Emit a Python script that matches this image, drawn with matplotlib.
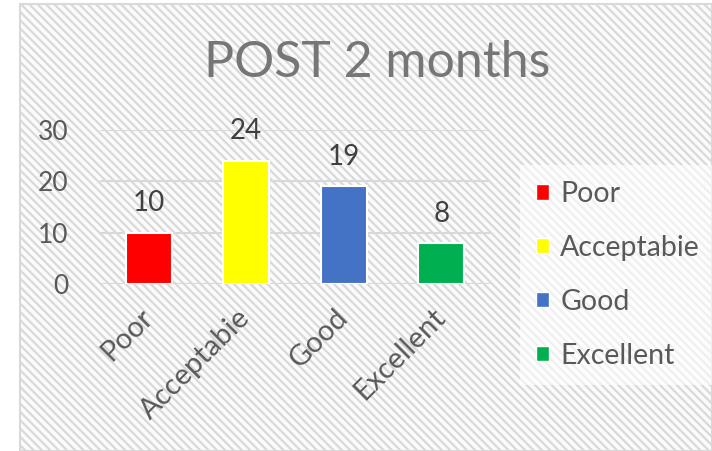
import numpy as np
import matplotlib.pyplot as plt
from matplotlib.patches import Rectangle

categories = ['Poor', 'Acceptabie', 'Good', 'Excellent']
values = [10, 24, 19, 8]
colors = ['#ff0000', '#ffff00', '#4472c4', '#00b050']
yticks = [0, 10, 20, 30]

plt.rcParams['font.family'] = ['Lato', 'DejaVu Sans']
plt.rcParams['hatch.linewidth'] = 1.6
plt.rcParams['hatch.color'] = '#e6e6e6'

fig = plt.figure(figsize=(7.12, 4.51), dpi=100)
fig.patch.set_facecolor('white')

# striped chart background
W, H = 712, 451
bg = Rectangle((20 / W, 0), 1 - 20 / W, 1 - 4 / H, transform=fig.transFigure,
               facecolor='#fbfbfb', edgecolor='#d9d9d9', hatch='\\\\\\\\', linewidth=1.5, zorder=-2)
fig.patches.append(bg)

# legend area is lighter
leg_bg = Rectangle((520 / W, 1 - 385 / H), 1 - 520 / W, 220 / H, transform=fig.transFigure,
                   facecolor='white', edgecolor='none', alpha=0.6, zorder=-1)
fig.patches.append(leg_bg)

ax = fig.add_axes([100 / W, 1 - 284 / H, 390 / W, 154 / H])
ax.set_zorder(2)
ax.patch.set_alpha(0)
x = np.arange(len(categories))
ax.bar(x, values, width=0.47, color=colors, edgecolor='white', linewidth=1.5, zorder=3)

for xi, v in zip(x, values):
    ax.text(xi, v + 3.2, str(v), ha='center', va='bottom', fontsize=20, color='#404040')

ax.set_xlim(-0.5, 3.5)
ax.set_ylim(0, 30)
ax.set_yticks(yticks)
ax.yaxis.grid(True, color='#d9d9d9', linewidth=1.5, zorder=0)
ax.set_axisbelow(True)
for s in ax.spines.values():
    s.set_visible(False)
ax.tick_params(length=0)
ax.tick_params(axis='y', labelsize=19, labelcolor='#595959', pad=23)
ax.set_xticks(x)
ax.set_xticklabels(categories, rotation=45, ha='right', va='center', rotation_mode='anchor',
                   fontsize=21, color='#595959')
ax.tick_params(axis='x', pad=21)

fig.text(377 / W, 1 - 63 / H, 'POST 2 months', ha='center', va='center', fontsize=36,
         color='#767676')

handles = [Rectangle((0, 0), 1, 1, facecolor=c, edgecolor='white') for c in colors]
fig.legend(handles, categories, loc='upper left', bbox_to_anchor=(536 / W, 1 - 181 / H),
           frameon=False, fontsize=20.5, labelcolor='#595959', handlelength=0.45,
           handleheight=0.45, handletextpad=0.4, labelspacing=0.98, borderpad=0,
           borderaxespad=0)

fig.savefig('out.png', dpi=100)
